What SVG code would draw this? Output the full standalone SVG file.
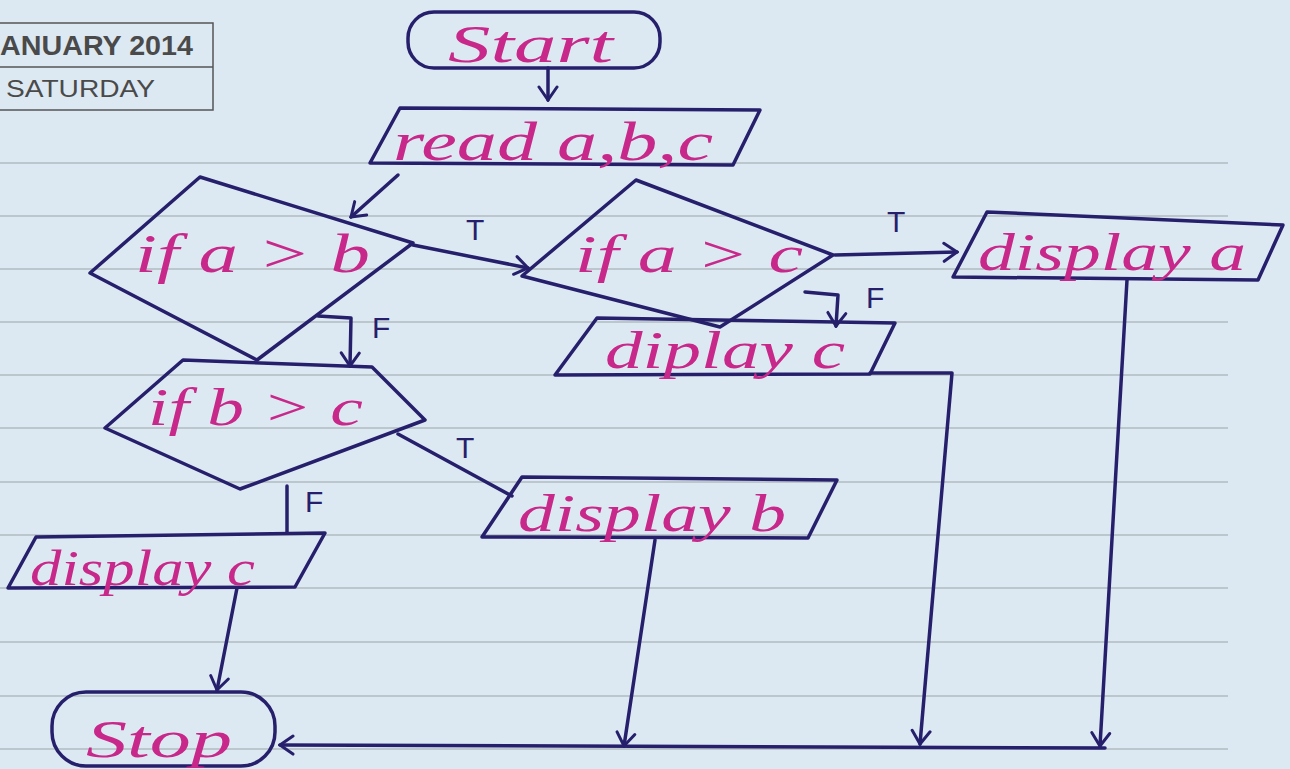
<svg xmlns="http://www.w3.org/2000/svg" width="1290" height="769" viewBox="0 0 1290 769">
  <style>
    .ink { fill: none; stroke: #26206c; stroke-width: 3.5; stroke-linejoin: round; stroke-linecap: round; }
    .shape { fill: none; stroke: #26206c; stroke-width: 3.5; stroke-linejoin: round; }
    .hand { font-family: "Liberation Serif", serif; font-style: italic; fill: #c8288a; }
    .tf { font-family: "Liberation Sans", sans-serif; fill: #26206c; font-size: 30px; }
    .rule { stroke: #9aa3a8; stroke-width: 1.2; }
    .print { font-family: "Liberation Sans", sans-serif; fill: #4a4a4a; }
  </style>
  <defs>
    <marker id="arr" viewBox="-16 -11 18 22" refX="0" refY="0" markerWidth="18" markerHeight="22" markerUnits="userSpaceOnUse" orient="auto">
      <path d="M-13,-9 L0,0 L-13,9" fill="none" stroke="#26206c" stroke-width="3" stroke-linecap="round"/>
    </marker>
  </defs>

  <!-- paper -->
  <rect width="1290" height="769" fill="#dde9f2"/>
  <g id="ruling">
    <line class="rule" x1="0" y1="163" x2="1228" y2="163"/>
    <line class="rule" x1="0" y1="216" x2="1228" y2="216"/>
    <line class="rule" x1="0" y1="269" x2="1228" y2="269"/>
    <line class="rule" x1="0" y1="322" x2="1228" y2="322"/>
    <line class="rule" x1="0" y1="375" x2="1228" y2="375"/>
    <line class="rule" x1="0" y1="428" x2="1228" y2="428"/>
    <line class="rule" x1="0" y1="482" x2="1228" y2="482"/>
    <line class="rule" x1="0" y1="535" x2="1228" y2="535"/>
    <line class="rule" x1="0" y1="588" x2="1228" y2="588"/>
    <line class="rule" x1="0" y1="642" x2="1228" y2="642"/>
    <line class="rule" x1="0" y1="696" x2="1228" y2="696"/>
    <line class="rule" x1="0" y1="749" x2="1228" y2="749"/>
  </g>

  <!-- printed date box -->
  <g id="datebox">
    <rect x="-10" y="23" width="223" height="87" fill="none" stroke="#555" stroke-width="1.5"/>
    <line x1="-10" y1="67" x2="213" y2="67" stroke="#555" stroke-width="1.5"/>
    <text class="print" x="0" y="55" font-size="27" font-weight="bold" textLength="193" lengthAdjust="spacingAndGlyphs">ANUARY 2014</text>
    <text class="print" x="6" y="97" font-size="24" textLength="149" lengthAdjust="spacingAndGlyphs">SATURDAY</text>
  </g>

  <!-- connectors -->
  <g id="connectors">
    <path class="ink" d="M548,68 L548,100" marker-end="url(#arr)"/>
    <path class="ink" d="M398,175 L351,217" marker-end="url(#arr)"/>
    <path class="ink" d="M413,245 L528,268" marker-end="url(#arr)"/>
    <path class="ink" d="M318,316 L351,318 L350,366" marker-end="url(#arr)"/>
    <path class="ink" d="M398,434 L512,496"/>
    <path class="ink" d="M287,486 L287,532"/>
    <path class="ink" d="M237,588 L217,690" marker-end="url(#arr)"/>
    <path class="ink" d="M835,255 L957,252" marker-end="url(#arr)"/>
    <path class="ink" d="M805,292 L838,295 L836,326" marker-end="url(#arr)"/>
    <path class="ink" d="M870,373 L952,373 L920,744" marker-end="url(#arr)"/>
    <path class="ink" d="M1127,280 L1100,746" marker-end="url(#arr)"/>
    <path class="ink" d="M655,540 L624,746" marker-end="url(#arr)"/>
    <path class="ink" d="M1105,748 L280,745" marker-end="url(#arr)"/>
    <text class="tf" x="466" y="240">T</text>
    <text class="tf" x="372" y="338">F</text>
    <text class="tf" x="456" y="458">T</text>
    <text class="tf" x="305" y="512">F</text>
    <text class="tf" x="887" y="232">T</text>
    <text class="tf" x="866" y="308">F</text>
  </g>

  <!-- nodes -->
  <g id="start">
    <rect class="shape" x="408" y="12" width="252" height="56" rx="26"/>
    <text class="hand" x="448" y="62" font-size="52" textLength="165" lengthAdjust="spacingAndGlyphs">Start</text>
  </g>

  <g id="read">
    <polygon class="shape" points="400,108 760,110 733,165 370,163"/>
    <text class="hand" x="393" y="160" font-size="54" textLength="320" lengthAdjust="spacingAndGlyphs">read a,b,c</text>
  </g>

  <g id="if-a-gt-b">
    <polygon class="shape" points="200,177 413,243 257,360 90,273"/>
    <text class="hand" x="135" y="272" font-size="54" textLength="235" lengthAdjust="spacingAndGlyphs">if  a &gt; b</text>
  </g>

  <g id="if-a-gt-c">
    <polygon class="shape" points="636,180 833,255 720,327 522,276"/>
    <text class="hand" x="575" y="272" font-size="52" textLength="228" lengthAdjust="spacingAndGlyphs">if a &gt; c</text>
  </g>

  <g id="display-a">
    <polygon class="shape" points="987,212 1283,225 1258,280 953,277"/>
    <text class="hand" x="978" y="270" font-size="52" textLength="268" lengthAdjust="spacingAndGlyphs">display a</text>
  </g>

  <g id="diplay-c">
    <polygon class="shape" points="597,318 895,323 870,374 555,375"/>
    <text class="hand" x="605" y="368" font-size="52" textLength="240" lengthAdjust="spacingAndGlyphs">diplay c</text>
  </g>

  <g id="if-b-gt-c">
    <polygon class="shape" points="105,428 183,360 372,367 425,420 240,489"/>
    <text class="hand" x="148" y="425" font-size="52" textLength="215" lengthAdjust="spacingAndGlyphs">if b &gt; c</text>
  </g>

  <g id="display-b">
    <polygon class="shape" points="522,477 837,480 808,538 482,537"/>
    <text class="hand" x="518" y="531" font-size="52" textLength="268" lengthAdjust="spacingAndGlyphs">display b</text>
  </g>

  <g id="display-c">
    <polygon class="shape" points="36,537 325,533 295,587 8,588"/>
    <text class="hand" x="30" y="585" font-size="50" textLength="225" lengthAdjust="spacingAndGlyphs">display c</text>
  </g>

  <g id="stop">
    <rect class="shape" x="52" y="692" width="223" height="74" rx="34"/>
    <text class="hand" x="86" y="757" font-size="52" textLength="146" lengthAdjust="spacingAndGlyphs">Stop</text>
  </g>
</svg>
